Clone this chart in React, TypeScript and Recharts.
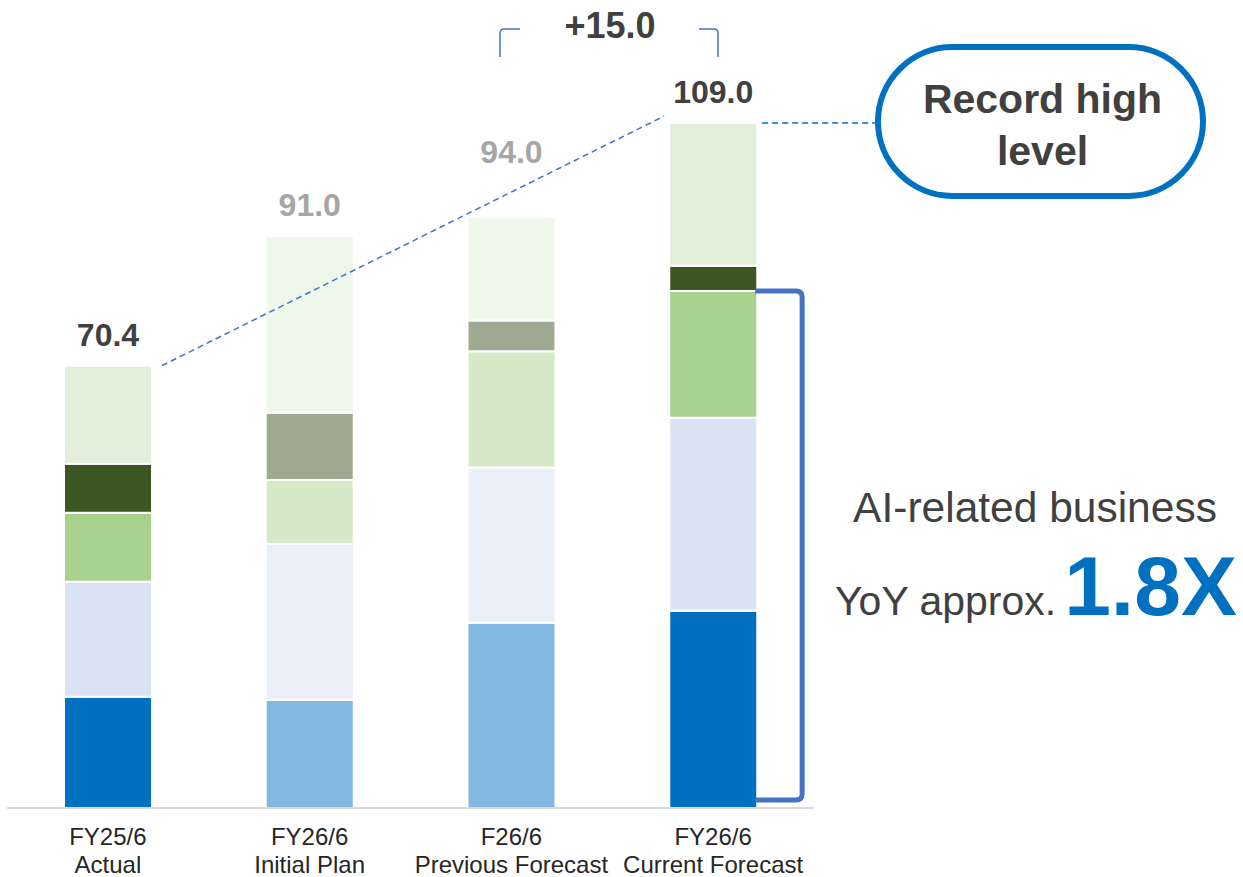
import React from "react";
import { BarChart, Bar, XAxis, YAxis, Cell, LabelList } from "recharts";

// 売上構成（億円）
const periods = ["FY25/6", "FY26/6", "F26/6", "FY26/6"];
const periodNotes = ["Actual", "Initial Plan", "Previous Forecast", "Current Forecast"];
const segBase = [17.7, 17.2, 29.5, 31.4];
const segSecond = [18.3, 24.8, 24.7, 30.7];
const segGreen = [11.0, 10.2, 18.5, 20.2];
const segDark = [7.8, 10.7, 4.9, 4.0];
const segTop = [15.6, 28.1, 16.4, 22.7];
const increaseLabel = "+15.0";
const multiple = "1.8X";

// actual / current forecast use strong colours, plans use faded ones
const solid = [true, false, false, true];
const palette = {
  base: ["#0070C0", "#83B9E0"],
  second: ["#DAE3F3", "#EAEFF8"],
  green: ["#A9D18E", "#D5E8C8"],
  dark: ["#3B5523", "#9EAA91"],
  top: ["#E2EFDA", "#EFF7EA"],
};
const pick = (key: keyof typeof palette, i: number) => palette[key][solid[i] ? 0 : 1];

const data = periods.map((p, i) => ({
  name: `${p} ${periodNotes[i]}`,
  base: segBase[i],
  second: segSecond[i],
  green: segGreen[i],
  dark: segDark[i],
  top: segTop[i],
  total: +(segBase[i] + segSecond[i] + segGreen[i] + segDark[i] + segTop[i]).toFixed(1),
}));

const W = 1243;
const H = 877;
const AXIS_H = 69;
const M = { top: 54, right: 429, bottom: 0, left: 7 };
const Y_MAX = 120;
const BAR = 88;
const plotW = W - M.left - M.right;
const plotH = H - M.top - M.bottom - AXIS_H;
const band = plotW / periods.length;
const yPx = (v: number) => M.top + plotH * (1 - v / Y_MAX);
const xMid = (i: number) => M.left + band * (i + 0.5);
const labelLift = [20, 20, 54, 20];

const FONT = "'Liberation Sans', Arial, sans-serif";
const TEXT = "#404040";

const PeriodTick = (props: any) => {
  const { x, y, index } = props;
  return (
    <text x={x} y={y} textAnchor="middle" fontFamily={FONT} fontSize={24} fill="#262626">
      <tspan x={x} dy={37}>{periods[index]}</tspan>
      <tspan x={x} dy={28}>{periodNotes[index]}</tspan>
    </text>
  );
};

const TotalLabel = (props: any) => {
  const { x, y, width, index, value } = props;
  return (
    <text
      x={x + width / 2}
      y={y - labelLift[index]}
      textAnchor="middle"
      fontFamily={FONT}
      fontWeight="bold"
      fontSize={32}
      fill={solid[index] ? TEXT : "#A6A6A6"}
    >
      {Number(value).toFixed(1)}
    </text>
  );
};

const segments: (keyof typeof palette)[] = ["base", "second", "green", "dark", "top"];

export default function App() {
  const first = data[0].total;
  const last = data[data.length - 1].total;
  const half = BAR / 2;
  const lastX = xMid(data.length - 1);

  // bracket around the AI-related part of the current forecast
  const aiTop = yPx(segBase[3] + segSecond[3] + segGreen[3]);
  const aiBottom = yPx(0) - 8;
  const bx = lastX + half - 2;
  const bRight = lastX + half + 45;

  // pill box
  const boxX = 878;
  const boxY = 47;
  const boxW = 325;
  const boxH = 149;

  return (
    <div style={{ position: "absolute", left: 0, top: 0, width: W, height: H, background: "#fff" }}>
      <BarChart width={W} height={H} data={data} margin={M} barSize={BAR}>
        <XAxis
          dataKey="name"
          height={AXIS_H}
          axisLine={{ stroke: "#D9D9D9", strokeWidth: 2 }}
          tickLine={false}
          tickSize={0}
          tickMargin={0}
          interval={0}
          tick={<PeriodTick />}
        />
        <YAxis hide domain={[0, Y_MAX]} />
        {segments.map((key) => (
          <Bar key={key} dataKey={key} stackId="a" stroke="#fff" strokeWidth={2} isAnimationActive={false}>
            {data.map((_, i) => (
              <Cell key={i} fill={pick(key, i)} />
            ))}
            {key === "top" && <LabelList dataKey="total" content={<TotalLabel />} />}
          </Bar>
        ))}
      </BarChart>

      <svg width={W} height={H} style={{ position: "absolute", left: 0, top: 0, pointerEvents: "none" }}>
        {/* growth line from actual to current forecast */}
        <line
          x1={xMid(0) + half + 10}
          y1={yPx(first)}
          x2={lastX - half - 5}
          y2={yPx(last) - 7}
          stroke="#4472C4"
          strokeWidth={1.5}
          strokeDasharray="6 4"
        />
        <line
          x1={lastX + half + 5}
          y1={yPx(last)}
          x2={boxX - 3}
          y2={yPx(last)}
          stroke="#0070C0"
          strokeWidth={1.5}
          strokeDasharray="6 4"
        />

        {/* +15.0 bracket */}
        <path d="M500,57 L500,33 Q500,29 504,29 L520,29" fill="none" stroke="#4472C4" strokeWidth={1.5} />
        <path d="M699,29 L714,29 Q718,29 718,33 L718,57" fill="none" stroke="#4472C4" strokeWidth={1.5} />
        <text x={610} y={38} textAnchor="middle" fontFamily={FONT} fontWeight="bold" fontSize={36} fill={TEXT}>
          {increaseLabel}
        </text>

        <rect
          x={boxX}
          y={boxY}
          width={boxW}
          height={boxH}
          rx={boxH / 2}
          ry={boxH / 2}
          fill="#fff"
          stroke="#0070C0"
          strokeWidth={6}
        />
        <text x={boxX + boxW / 2 + 2} y={113} textAnchor="middle" fontFamily={FONT} fontWeight="bold" fontSize={41} fill={TEXT}>
          Record high
        </text>
        <text x={boxX + boxW / 2 + 2} y={165} textAnchor="middle" fontFamily={FONT} fontWeight="bold" fontSize={41} fill={TEXT}>
          level
        </text>

        <path
          d={`M${bx},${aiTop} L${bRight - 6},${aiTop} Q${bRight},${aiTop} ${bRight},${aiTop + 6} L${bRight},${aiBottom - 6} Q${bRight},${aiBottom} ${bRight - 6},${aiBottom} L${bx},${aiBottom}`}
          fill="none"
          stroke="#4472C4"
          strokeWidth={5}
        />

        <text x={1035} y={522} textAnchor="middle" fontFamily={FONT} fontSize={42.5} fill={TEXT}>
          AI-related business
        </text>
        <text x={835} y={615} fontFamily={FONT} fontSize={41} fill={TEXT}>
          YoY approx.
          <tspan fontWeight="bold" fontSize={84} fill="#0070C0" dx={8}>
            {multiple}
          </tspan>
        </text>
      </svg>
    </div>
  );
}
